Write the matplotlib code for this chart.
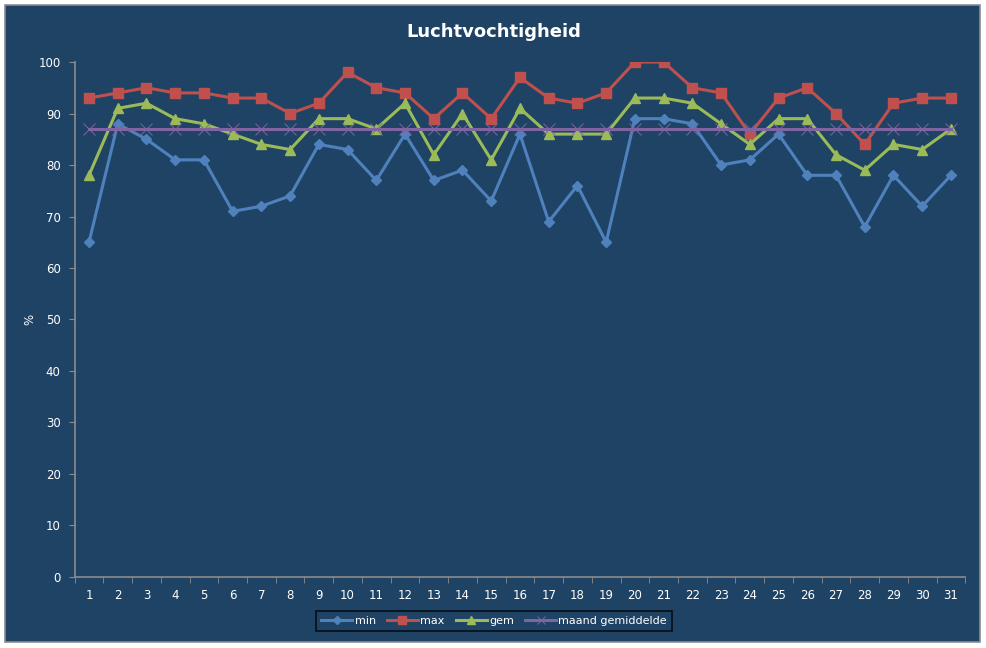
import numpy as np
import matplotlib.pyplot as plt
from matplotlib.patches import Rectangle

# days of the month
dagen = np.arange(1, 32)

# relative humidity per day (%)
min_vals = [65, 88, 85, 81, 81, 71, 72, 74, 84, 83, 77, 86, 77, 79, 73, 86,
            69, 76, 65, 89, 89, 88, 80, 81, 86, 78, 78, 68, 78, 72, 78]
max_vals = [93, 94, 95, 94, 94, 93, 93, 90, 92, 98, 95, 94, 89, 94, 89, 97,
            93, 92, 94, 100, 100, 95, 94, 86, 93, 95, 90, 84, 92, 93, 93]
gem_vals = [78, 91, 92, 89, 88, 86, 84, 83, 89, 89, 87, 92, 82, 90, 81, 91,
            86, 86, 86, 93, 93, 92, 88, 84, 89, 89, 82, 79, 84, 83, 87]
maand_gem = [87] * 31

bg = '#1F4365'
grey = '#8C8C8C'

fig = plt.figure(figsize=(9.87, 6.48), dpi=100)
fig.patch.set_facecolor('white')
# chart area with border
fig.patches.append(Rectangle((5 / 987, 6 / 648), 975 / 987, 637 / 648,
                             transform=fig.transFigure, facecolor=bg,
                             edgecolor=grey, linewidth=1.2, zorder=-1))

ax = fig.add_axes([0.0756, 0.1096, 0.9024, 0.7947])
ax.set_facecolor(bg)

ax.plot(dagen, min_vals, color='#4F81BD', marker='D', markersize=5, linewidth=2.2, label='min')
ax.plot(dagen, max_vals, color='#C0504D', marker='s', markersize=7, linewidth=2.2, label='max')
ax.plot(dagen, gem_vals, color='#9BBB59', marker='^', markersize=7, linewidth=2.2, label='gem')
ax.plot(dagen, maand_gem, color='#8064A2', marker='x', markersize=8, markeredgewidth=0.7,
        linewidth=2.2, label='maand gemiddelde')

ax.set_xlim(0.5, 31.5)
ax.set_ylim(0, 100)
ax.set_yticks(np.arange(0, 101, 10))
ax.set_xticks(dagen)
ax.set_xticks(np.arange(0.5, 32, 1), minor=True)
ax.tick_params(axis='x', which='major', length=0, pad=9, colors='white', labelsize=8.5)
ax.tick_params(axis='x', which='minor', length=4, color=grey, direction='out')
ax.tick_params(axis='y', length=4, color=grey, colors='white', labelsize=8.5, pad=6)
for s in ['top', 'right']:
    ax.spines[s].set_visible(False)
for s in ['left', 'bottom']:
    ax.spines[s].set_color(grey)
    ax.spines[s].set_linewidth(1.2)

ax.set_ylabel('%', color='white', fontsize=8.5)
ax.yaxis.set_label_coords(-0.043, 0.5)
fig.text(0.5, 0.951, 'Luchtvochtigheid', color='white', fontsize=13,
         fontweight='bold', ha='center', va='center')

leg = ax.legend(loc='center', bbox_to_anchor=(0.471, -0.085), ncol=4, frameon=True,
                fontsize=8, handlelength=2.8, columnspacing=1.0, handletextpad=0.2,
                borderpad=0.45, fancybox=False, markerscale=0.8)
leg.get_frame().set_facecolor(bg)
leg.get_frame().set_edgecolor('black')
leg.get_frame().set_linewidth(1.2)
for t in leg.get_texts():
    t.set_color('white')

fig.savefig('out.png', dpi=100, facecolor=fig.get_facecolor())
